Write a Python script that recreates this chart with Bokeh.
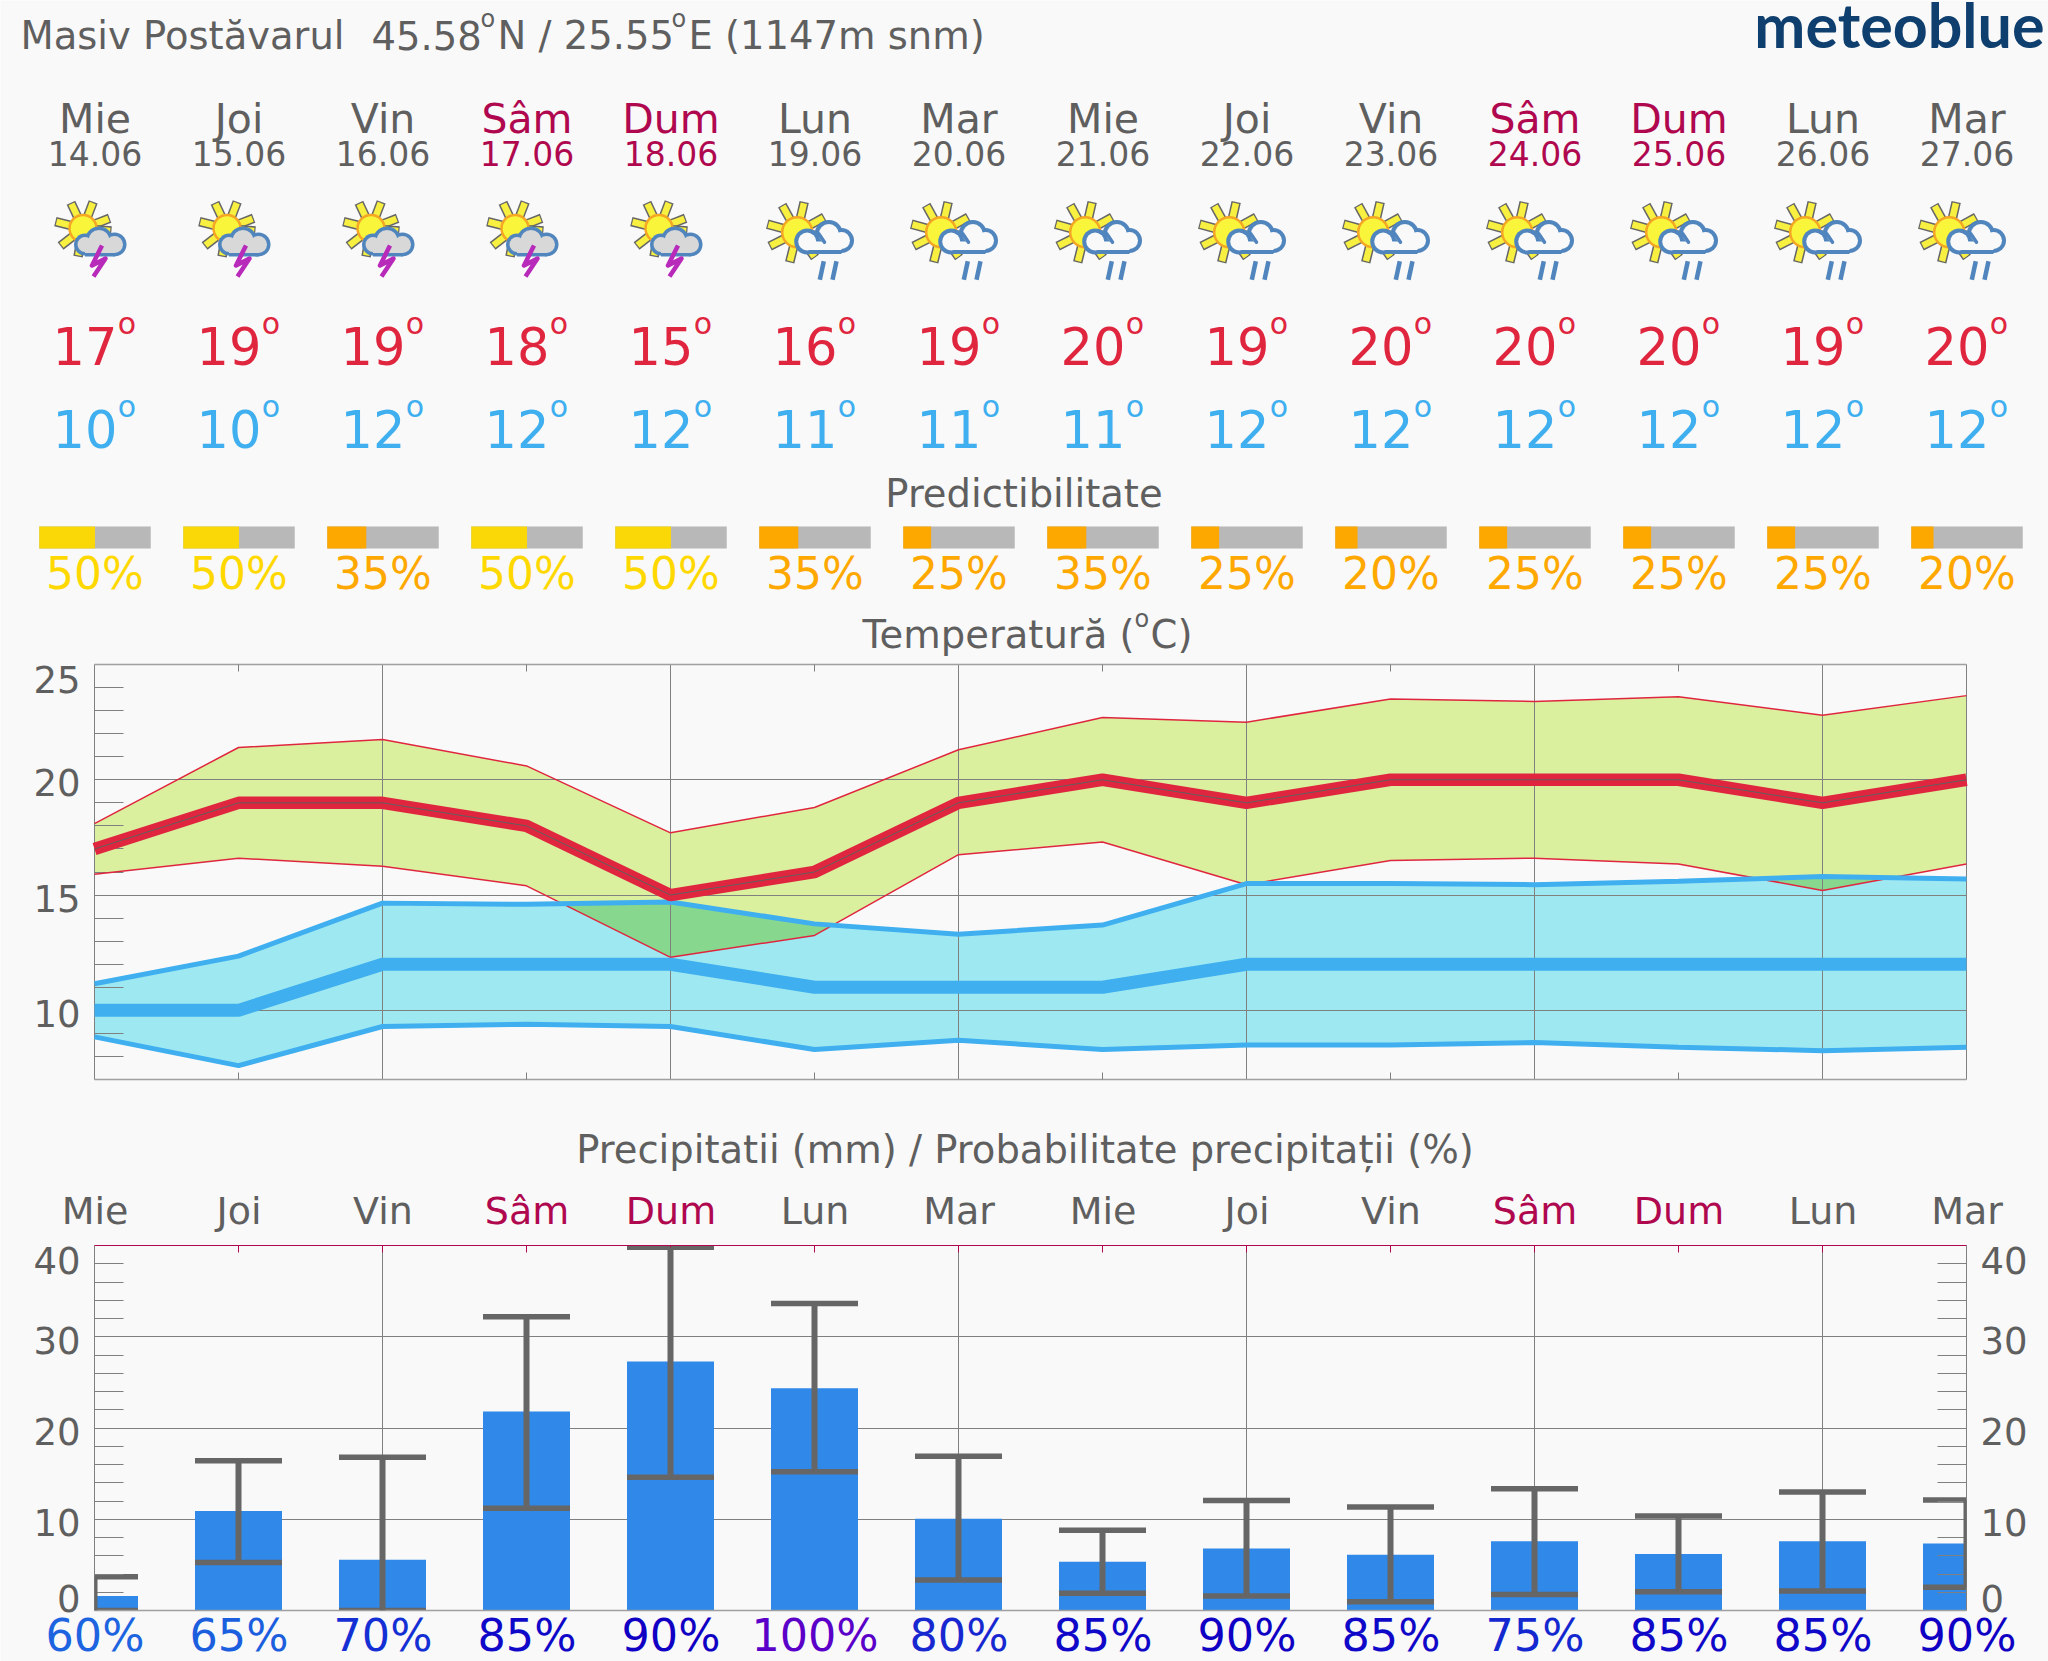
import numpy as np
from bokeh.plotting import figure
from bokeh.models import (ColumnDataSource, FixedTicker, LinearAxis, Range1d, Whisker)
from bokeh.core.properties import value
from bokeh.embed import file_html
from bokeh.resources import INLINE

# ---------- data ----------
weekdays = ["Mie","Joi","Vin","Sâm","Dum","Lun","Mar","Mie","Joi","Vin","Sâm","Dum","Lun","Mar"]
dates = ["14.06","15.06","16.06","17.06","18.06","19.06","20.06","21.06","22.06","23.06","24.06","25.06","26.06","27.06"]
weekend = [d in ("Sâm","Dum") for d in weekdays]
storm_days = [True]*5 + [False]*9
predict = [50,50,35,50,50,35,25,35,25,20,25,25,25,20]
tmax = [17,19,19,18,15,16,19,20,19,20,20,20,19,20]
tmin = [10,10,12,12,12,11,11,11,12,12,12,12,12,12]
tmax_hi = [18.1,21.4,21.75,20.6,17.7,18.8,21.3,22.7,22.5,23.5,23.4,23.6,22.8,23.65]
tmax_lo = [15.9,16.6,16.25,15.4,12.3,13.25,16.75,17.3,15.45,16.5,16.6,16.35,15.2,16.35]
tmin_hi = [11.15,12.35,14.65,14.6,14.7,13.75,13.3,13.7,15.5,15.5,15.45,15.6,15.8,15.7]
tmin_lo = [8.85,7.6,9.3,9.4,9.3,8.3,8.7,8.3,8.5,8.5,8.6,8.4,8.25,8.4]
precip = [1.6,10.9,5.55,21.8,27.3,24.35,10.05,5.35,6.8,6.1,7.6,6.2,7.6,7.35]
precip_hi = [3.7,16.4,16.8,32.2,39.8,33.65,16.9,8.8,12.05,11.35,13.35,10.35,13.0,12.1]
precip_lo = [0,5.25,0,11.2,14.6,15.2,3.35,1.9,1.6,0.95,1.75,2.05,2.15,2.55]
precip_prob = [60,65,70,85,90,100,80,85,90,85,75,85,85,90]
prob_colors = ["#1c64e0","#1b5ede","#1430d4","#1008c8","#1000c4","#5a00c8","#1828d0","#1008c8","#1000c4","#1008c8","#1428d0","#1008c8","#1008c8","#1000c4"]
temp_ticks = [10,15,20,25]
temp_label_base = [1027,912,796,693]
precip_ticks = [0,10,20,30,40]
precip_label_base = [1612,1536.5,1445,1354,1274.5]

GREY="#5f5f5f"; WEEKEND="#b0084f"; RED="#e0263f"; BLUE="#3fafef"; BG="#f9f9f9"
FONT=value("DejaVu Sans")
K=0.39   # baseline correction of the renderer, as a share of the font size
days=np.arange(14)
X0=94.5; DX=144.0
page_x=[X0+DX*i for i in days]
daycol=[WEEKEND if w else GREY for w in weekend]

# ---------- page layer: all texts and the weather icons, in page pixels ----------
W=2048; H=1661
h=figure(width=W,height=H,x_range=Range1d(0,W),y_range=Range1d(H,0),toolbar_location=None,
         output_backend="svg",min_border=0,background_fill_color=BG,border_fill_color=BG,outline_line_color=None,
         x_axis_location=None,y_axis_location=None,styles={"position":"absolute","left":"0px","top":"0px"})
h.grid.visible=False

def txt(x,y,t,size,color,align="center",font=FONT,style="normal"):
    h.text(x=[x],y=[y-K*size],text=[t],text_font=font,text_font_size=value(f"{size}px"),text_color=color,
           text_align=align,text_baseline="alphabetic",text_font_style=style)

def txts(xs,ys,ts,size,colors,align="center"):
    n=len(xs)
    ys=ys if isinstance(ys,list) else [ys]*n
    colors=colors if isinstance(colors,list) else [colors]*n
    s=ColumnDataSource(dict(x=list(xs),y=[v-K*size for v in ys],t=list(ts),c=colors))
    h.text(x="x",y="y",text="t",text_color="c",source=s,text_font=FONT,text_font_size=value(f"{size}px"),
           text_align=align,text_baseline="alphabetic")

txt(20,50,"Masiv Postăvarul",38.5,GREY,"left")
txt(371,50,"45.58",38.5,GREY,"left")
txt(480,28,"o",24,GREY,"left")
txt(497,50,"N / 25.55",38.5,GREY,"left")
txt(671,28,"o",24,GREY,"left")
txt(688,50,"E (1147m snm)",38.5,GREY,"left")
txt(2044,48,"meteoblue",61,"#0f3f6e","right",font=value("Lato"),style="bold")

txts(page_x,134,weekdays,41,daycol)
txts(page_x,165.5,dates,33,daycol)

txts([x-10 for x in page_x],365,[str(v) for v in tmax],51,RED)
txts([x+32 for x in page_x],335,["o"]*14,30,RED)
txts([x-10 for x in page_x],448,[str(v) for v in tmin],51,BLUE)
txts([x+32 for x in page_x],418,["o"]*14,30,BLUE)

txt(1023.5,508,"Predictibilitate",38.5,GREY)
YEL="#fad808"; ORG="#fca800"
predcol=[YEL if v>=50 else ORG for v in predict]
BW=111.5
left=[x-BW/2 for x in page_x]
right=[x+BW/2 for x in page_x]
mid=[l+BW*v/100 for l,v in zip(left,predict)]
h.quad(left=left,right=right,top=526,bottom=548,fill_color="#b8b8b8",line_color=None)
h.quad(left=left,right=mid,top=526,bottom=548,fill_color=predcol,line_color=None)
txts(page_x,590,[f"{v}%" for v in predict],44,["#ffd800" if v>=50 else "#ffa800" for v in predict])

txt(1134,649,"Temperatură (",38.5,GREY,"right")
txt(1134,628,"o",24,GREY,"left")
txt(1150,649,"C)",38.5,GREY,"left")
txt(1024.5,1164,"Precipitatii (mm) / Probabilitate precipitații (%)",38.5,GREY)
txts(page_x,1225,weekdays,38,daycol)
txts(page_x,1652,[f"{v}%" for v in precip_prob],44.5,prob_colors)
txts([80]*4,temp_label_base,[str(v) for v in temp_ticks],37,GREY,"right")
txts([80]*5,precip_label_base,[str(v) for v in precip_ticks],37,GREY,"right")
txts([1980]*5,precip_label_base,[str(v) for v in precip_ticks],37,GREY,"left")

STROKE="#5085be"
def icon(cx,storm):
    if storm:
        sx,sy,rs,r0,r1=cx-12,228,13.5,13,28.5
        ang=np.radians([21,69,115,166,218,260,310,355])
    else:
        sx,sy,rs,r0,r1=cx-17.8,231.7,15,14,31
        ang=np.radians([29,77,119,165,207,256,305,350])
    for a in ang:
        h.line([sx+r0*np.cos(a),sx+r1*np.cos(a)],[sy-r0*np.sin(a),sy-r1*np.sin(a)],
               line_width=9.5,line_color="#666666",line_cap="butt")
        h.line([sx+r0*np.cos(a),sx+(r1-1.2)*np.cos(a)],[sy-r0*np.sin(a),sy-(r1-1.2)*np.sin(a)],
               line_width=6.5,line_color="#f8f040",line_cap="butt")
    h.circle(x=[sx],y=[sy],radius=rs,fill_color="#f9f53a",line_color="#f5a623",line_width=2.5)
    if storm:
        ccx=[cx-10,cx+4,cx+19.5]; ccy=[244,240,244]; rr=[11,14,12]; fill="#d8d8d8"
        rect=(cx-10,cx+19.5,243,256); st=3.5
    else:
        ccx=[cx-7.8,cx+13.8,cx+26.5]; ccy=[241,233.5,240]; rr=[13,14,12.5]; fill=BG
        rect=(cx-8,cx+26.5,241,253.5); st=4
    h.circle(x=ccx,y=ccy,radius=rr,fill_color=STROKE,line_color=None)
    h.quad(left=rect[0],right=rect[1],top=rect[2],bottom=rect[3],fill_color=STROKE,line_color=None)
    h.circle(x=ccx,y=ccy,radius=[r-st for r in rr],fill_color=fill,line_color=None)
    h.quad(left=rect[0],right=rect[1],top=rect[2],bottom=rect[3]-st,fill_color=fill,line_color=None)
    if storm:
        h.line([cx+7,cx-3,cx+10.5,cx-1.5],[245,265,258,276],line_width=4.5,line_color="#b82aba",line_join="round")
    else:
        h.line([cx-2.8,cx+3.8,cx+9.5],[231.7,233.3,241.7],line_width=3.5,line_color=STROKE,line_cap="round")
        h.line([cx+8.8,cx+4.8],[260.7,279.3],line_width=4.5,line_color=STROKE)
        h.line([cx+21.5,cx+17.5],[260.7,279.3],line_width=4.5,line_color=STROKE)

for x,s in zip(page_x,storm_days):
    icon(x,s)

# ---------- shared axis styling ----------
GRID="#808080"
xs_even=[2,4,6,8,10,12]; xs_odd=[1,3,5,7,9,11]
def style_axis(ax,ticks,minor,color="#a0a0a0",minor_len=7,width=1.5,tick_color=GRID):
    ax.ticker=FixedTicker(ticks=ticks,minor_ticks=minor)
    ax.major_label_text_font_size="0px"; ax.major_label_text_color=None
    ax.major_tick_line_color=None; ax.major_tick_in=0; ax.major_tick_out=0
    ax.minor_tick_line_color=tick_color; ax.minor_tick_in=minor_len; ax.minor_tick_out=0
    ax.axis_line_color=color; ax.axis_line_width=width

# ---------- temperature ----------
t=figure(width=W,height=480,x_range=Range1d(0,13),y_range=Range1d(7,25),frame_width=1872,frame_height=415,
         min_border_left=94,min_border_right=82,min_border_top=14,min_border_bottom=51,toolbar_location=None,
         output_backend="svg",background_fill_color=None,border_fill_color=None,outline_line_color=None,
         x_axis_location=None,y_axis_location=None,styles={"position":"absolute","left":"0px","top":"650px"})
for loc,tk,mn in (("below",xs_even,xs_odd),("above",xs_even,xs_odd)):
    ax=LinearAxis(); style_axis(ax,tk,mn); t.add_layout(ax,loc)
tminor=[v for v in range(8,25) if v not in temp_ticks]
ax=LinearAxis(); style_axis(ax,temp_ticks,tminor,color=GRID,minor_len=29,width=1); t.add_layout(ax,"left")
ax=LinearAxis(); style_axis(ax,temp_ticks,[],color=GRID,width=1); t.add_layout(ax,"right")
t.xgrid.ticker=FixedTicker(ticks=xs_even); t.ygrid.ticker=FixedTicker(ticks=temp_ticks)
t.grid.grid_line_color=GRID; t.grid.grid_line_width=1; t.grid.level="glyph"

t.varea(x=days,y1=tmax_lo,y2=tmax_hi,fill_color="#daf09f",level="underlay")
t.varea(x=days,y1=tmin_lo,y2=tmin_hi,fill_color="#9ee9f1",level="underlay")
xd=np.linspace(0,13,1301)
lo=np.interp(xd,days,tmax_lo); hi=np.interp(xd,days,tmin_hi)
t.varea(x=xd,y1=lo,y2=np.maximum(lo,hi),fill_color="#87d78e",level="underlay")
for y in (tmax_hi,tmax_lo):
    t.line(days,y,line_color=RED,line_width=1.5,level="annotation")
for y in (tmin_hi,tmin_lo):
    t.line(days,y,line_color=BLUE,line_width=5,level="annotation")
t.line(days,tmax,line_color=RED,line_width=12.5,level="annotation")
t.line(days,tmax,line_color=GREY,line_width=1,level="annotation")
t.line(days,tmin,line_color=BLUE,line_width=13,level="annotation")

# ---------- precipitation ----------
P=figure(width=W,height=531,x_range=Range1d(0,13),y_range=Range1d(0,40),frame_width=1872,frame_height=365,
         min_border_left=94,min_border_right=82,min_border_top=115,min_border_bottom=51,toolbar_location=None,
         output_backend="svg",background_fill_color=None,border_fill_color=None,outline_line_color=None,
         x_axis_location=None,y_axis_location=None,styles={"position":"absolute","left":"0px","top":"1130px"})
ax=LinearAxis(); style_axis(ax,[],list(days),color=WEEKEND,minor_len=7,width=1,tick_color=WEEKEND); P.add_layout(ax,"above")
ax=LinearAxis(); style_axis(ax,[],[],color="#a0a0a0",width=1.5); P.add_layout(ax,"below")
pminor=[v for v in range(2,40,2) if v not in precip_ticks]
for loc in ("left","right"):
    ax=LinearAxis(); style_axis(ax,precip_ticks,pminor,color=GRID,minor_len=29,width=1); P.add_layout(ax,loc)
P.xgrid.ticker=FixedTicker(ticks=xs_even); P.ygrid.ticker=FixedTicker(ticks=precip_ticks)
P.grid.grid_line_color=GRID; P.grid.grid_line_width=1

P.vbar(x=days,top=precip,width=87/144,fill_color="#3088e8",line_color=None)
WH="#666666"
src=ColumnDataSource(dict(x=days,hi=precip_hi,lo=precip_lo))
P.add_layout(Whisker(base="x",upper="hi",lower="lo",source=src,line_color=WH,line_width=6,upper_head=None,lower_head=None,level="overlay"))
for arr in (precip_hi,precip_lo):
    P.segment(x0=days-43.5/144,x1=days+43.5/144,y0=arr,y1=arr,line_color=WH,line_width=5.5)

open("out.html","w").write(file_html([h,t,P],INLINE))
